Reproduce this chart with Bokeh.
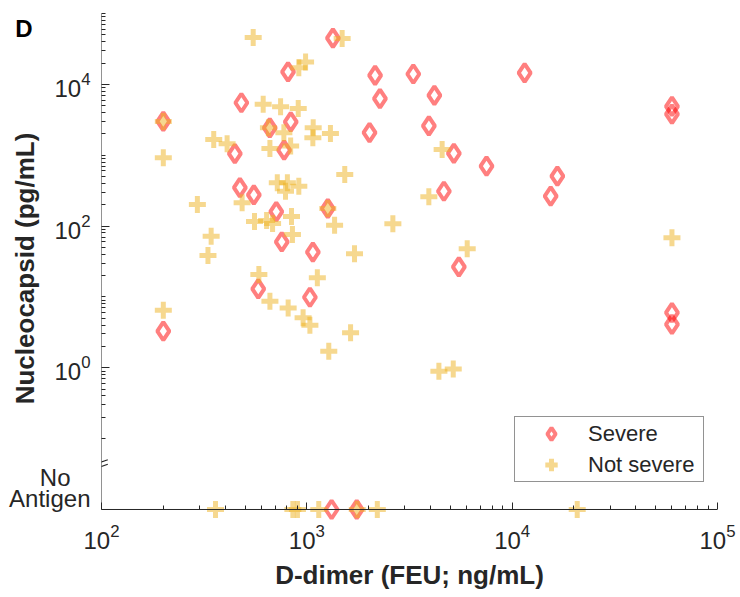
from bokeh.plotting import figure
from bokeh.models import (Range1d, FixedTicker, Span, Arrow, Legend, LogAxis,
                          LegendItem, ColumnDataSource)
from bokeh.embed import file_html
from bokeh.resources import INLINE

# ---------------- data (0 in y = "No Antigen") ----------------
severe_x = [200, 200, 480, 810, 1340, 2150, 2270, 3300, 4180, 11500,
            3930, 2020, 835, 660, 775, 446, 472, 552, 710, 755,
            1070, 1265, 5200, 7500, 4650, 16600, 15400, 5500, 580, 1035,
            60000, 60000, 60000, 60000, 1320, 1750]
severe_y = [3000, 3.3, 5500, 15000, 45000, 13400, 6300, 14000, 7000, 14500,
            2600, 2080, 2950, 2430, 1180, 1050, 350, 275, 160, 60,
            43, 177, 1060, 700, 310, 507, 264, 26.5, 13, 9.9,
            4900, 3800, 6.0, 4.1, 0, 0]

notsevere_x = [548, 1486, 986, 914, 613, 745, 908, 200, 1074, 1070,
               1303, 352, 409, 661, 834, 773, 650, 200, 1530, 718,
               804, 914, 787, 293, 484, 556, 637, 681, 842, 851,
               1365, 1265, 342, 330, 1707, 584, 1125, 200, 661, 811,
               959, 1035, 1279, 1633, 4397, 5165, 4560, 3928, 2624, 6040,
               60000, 359, 855, 900, 1143, 2204, 20740, 1760]
notsevere_y = [45800, 44200, 20650, 17200, 5220, 4840, 4580, 3000, 2445, 1766,
               2032, 1672, 1453, 1248, 1345, 2080, 2440, 922, 535, 409,
               409, 366, 311, 202, 213, 116, 120, 109, 137, 76,
               103, 177, 72, 38.5, 40.6, 20.7, 18.6, 6.5, 8.7, 7.0,
               5.07, 3.98, 1.71, 3.11, 0.893, 0.964, 1208, 260, 108, 47.8,
               68.4, 0, 0, 0, 0, 0, 0, 0]

x_major = [1e2, 1e3, 1e4, 1e5]
y_major = [1e0, 1e2, 1e4]
NO_ANTIGEN = 1e-2
no_antigen_label = "No\u00a0\u00a0\u00a0\nAntigen\n\n"
series_labels = ["Severe", "Not severe"]
x_title = "D-dimer (FEU; ng/mL)"
y_title = "Nucleocapsid (pg/mL)"
panel_letter = "D"
LETTER_POS = 6.1e4   # height of the panel letter (upper left corner)

# ---------------- figure ----------------
FONT = "Liberation Sans"
DARK = "#262626"
PX_DEC_Y = 70.85
y_lo = 10 ** (-2 - 14 / PX_DEC_Y)

p = figure(width=740, height=597, x_axis_type="log", y_axis_type="log",
           x_range=Range1d(100, 1e5), y_range=Range1d(y_lo, 1e5),
           output_backend="svg", toolbar_location=None,
           min_border_left=101, min_border_right=23, min_border_top=13,
           min_border_bottom=74)
p.grid.visible = False
p.outline_line_color = None
p.background_fill_color = "white"

x_minor = [k * 10 ** n for n in range(2, 5) for k in range(2, 10)]
y_minor = [k * 10 ** n for n in range(-1, 5) for k in range(1, 10)
           if k * 10 ** n not in y_major] + [1e5]
p.xaxis.ticker = FixedTicker(ticks=x_major, minor_ticks=x_minor)
p.yaxis.ticker = FixedTicker(ticks=[NO_ANTIGEN] + y_major, minor_ticks=y_minor)
p.yaxis.major_label_overrides = {NO_ANTIGEN: no_antigen_label}

for ax in (p.xaxis[0], p.yaxis[0]):
    ax.major_label_text_font = FONT
    ax.major_label_text_font_size = "24px"
    ax.major_label_text_color = DARK
    ax.axis_label_text_font = FONT
    ax.axis_label_text_font_style = "bold"
    ax.axis_label_text_font_size = "26px"
    ax.axis_label_text_color = DARK
    ax.major_tick_line_color = DARK
    ax.minor_tick_line_color = DARK
    ax.axis_line_color = None

p.xaxis.axis_label = x_title
p.yaxis.axis_label = y_title

xa = p.xaxis[0]
xa.major_tick_in = 21
xa.major_tick_out = -14
xa.minor_tick_in = 18
xa.minor_tick_out = -14
xa.major_label_standoff = 14
xa.axis_label_standoff = 8

ya = p.yaxis[0]
ya.major_tick_in = 8
ya.major_tick_out = 0
ya.minor_tick_in = 4
ya.minor_tick_out = 0
ya.major_label_standoff = 11
ya.axis_label_standoff = -34
ya.major_label_text_line_height = 0.8

# panel letter carried by an extra, otherwise invisible, left axis
d_axis = LogAxis(ticker=FixedTicker(ticks=[LETTER_POS], minor_ticks=[]),
                 major_label_overrides={LETTER_POS: panel_letter})
d_axis.major_label_text_font = FONT
d_axis.major_label_text_font_size = "24px"
d_axis.major_label_text_font_style = "bold"
d_axis.major_label_text_color = "black"
d_axis.major_tick_line_color = None
d_axis.minor_tick_line_color = None
d_axis.axis_line_color = None
d_axis.major_tick_in = 0
d_axis.major_tick_out = 0
d_axis.major_label_standoff = -25
p.add_layout(d_axis, "left")

# axis lines
p.add_layout(Span(location=NO_ANTIGEN, dimension="width", line_color=DARK, line_width=1))
p.add_layout(Arrow(end=None, x_start=100, y_start=NO_ANTIGEN, x_end=100, y_end=1e5,
                   line_color=DARK, line_width=1))
# axis break marks
for dy in (0.0, 4.4):
    y0 = 10 ** (-2 + (509 - 463.3 - dy) / PX_DEC_Y)
    y1 = 10 ** (-2 + (509 - 459.3 - dy) / PX_DEC_Y)
    p.add_layout(Arrow(end=None, x_start=10 ** (2 - 5 / 205.3), y_start=y0,
                       x_end=10 ** (2 + 6.3 / 205.3), y_end=y1,
                       line_color=DARK, line_width=1.2))

# ---------------- data ----------------
src_s = ColumnDataSource(dict(x=severe_x,
                              y=[v if v > 0 else NO_ANTIGEN for v in severe_y]))
src_n = ColumnDataSource(dict(x=notsevere_x,
                              y=[v if v > 0 else NO_ANTIGEN for v in notsevere_y]))
r_s = p.scatter("x", "y", source=src_s, marker="diamond", size=18,
                fill_color=None, line_color="#ff0000", line_alpha=0.5, line_width=4)
r_n = p.scatter("x", "y", source=src_n, marker="cross", size=17,
                line_color="#edb120", line_alpha=0.5, line_width=5)

# ---------------- legend ----------------
legend = Legend(items=[LegendItem(label=series_labels[0], renderers=[r_s]),
                       LegendItem(label=series_labels[1], renderers=[r_n])],
                location=(413, 41))
legend.label_text_font = FONT
legend.label_text_font_size = "22px"
legend.label_text_color = DARK
legend.glyph_width = 70
legend.glyph_height = 31
legend.label_height = 30
legend.label_width = 114
legend.padding = 1
legend.spacing = 0
legend.label_standoff = 2
legend.margin = 0
legend.border_line_color = DARK
legend.border_line_width = 1
legend.background_fill_alpha = 1
p.add_layout(legend)

open("out.html", "w").write(file_html(p, INLINE))
